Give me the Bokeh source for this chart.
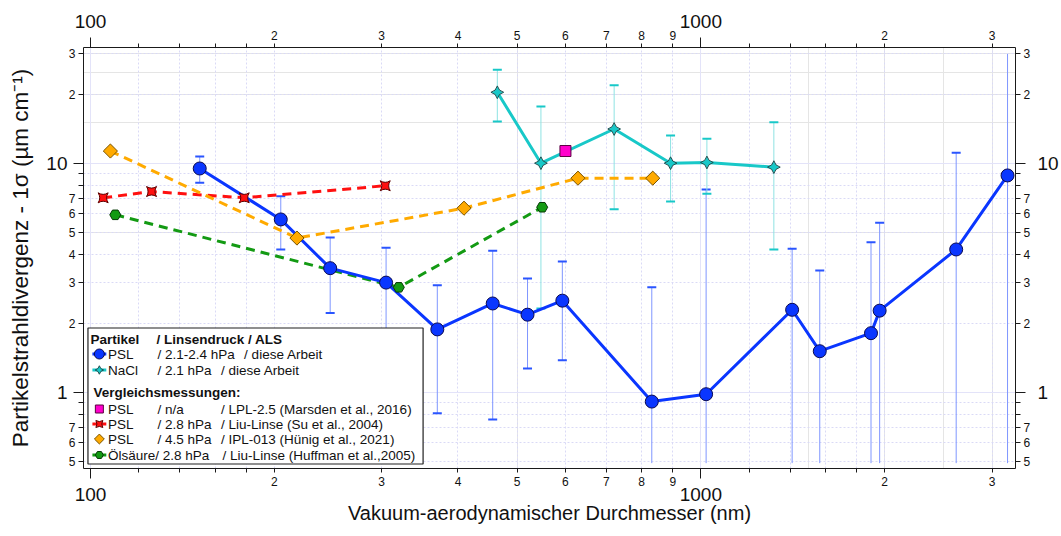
import numpy as np
from bokeh.plotting import figure
from bokeh.models import (Range1d, LinearScale, LogAxis, FixedTicker,
                          CustomJSTickFormatter, Grid, AllLabels)
from bokeh.embed import file_html
from bokeh.resources import INLINE
from bokeh.core.properties import value

# ---------------------------------------------------------------------------
# Data: vacuum aerodynamic diameter (nm) vs. particle beam divergence (1 sigma)
# ---------------------------------------------------------------------------
# PSL, this work (2.1-2.4 hPa); None = error bar leaves the axis range
psl_d = [151, 205, 247, 305, 370, 456, 520, 593, 831, 1020, 1411, 1566, 1900, 1963, 2620, 3180]
psl_div = [9.48, 5.68, 3.48, 3.01, 1.88, 2.44, 2.18, 2.51, 0.91, 0.98, 2.29, 1.51, 1.81, 2.27, 4.20, 8.84]
psl_hi = [10.7, 7.18, 4.74, 4.27, 2.93, 4.15, 3.14, 3.72, 2.87, 7.68, 4.23, 3.40, 4.52, 5.49, 11.1, None]
psl_lo = [8.21, 4.20, 2.22, 1.85, 0.81, 0.76, 1.27, 1.38, None, None, None, None, None, None, None, None]

# NaCl, this work (2.1 hPa)
nacl_d = [464, 547, 721, 892, 1023, 1317]
nacl_div = [20.4, 10.0, 14.1, 10.0, 10.07, 9.61]
nacl_hi = [25.6, 17.7, 21.9, 13.2, 12.8, 15.1]
nacl_lo = [15.2, 2.32, 6.30, 6.81, 7.35, 4.20]

# Comparison measurements
lpl_d = [600]                                   # LPL-2.5 (Marsden et al., 2016)
lpl_div = [11.3]
su_d = [104.9, 125.9, 178.6, 304]               # Liu lens (Su et al., 2004)
su_div = [7.06, 7.52, 7.06, 7.97]
hunig_d = [107.8, 217.9, 409.2, 629, 834]       # IPL-013 (Hünig et al., 2021)
hunig_div = [11.3, 4.71, 6.36, 8.60, 8.60]
huff_d = [109.8, 320, 549.6]                    # Liu lens, oleic acid (Huffman et al., 2005)
huff_div = [5.95, 2.87, 6.42]

# Axis ticks
x_decades = [100, 1000]
x_digits = [200, 300, 400, 500, 600, 700, 800, 900, 2000, 3000]
x_minor = [120, 140, 160, 180, 1200, 1400, 1600, 1800]
y_decades = [1, 10]
y_digits = [0.5, 0.6, 0.7, 2, 3, 4, 5, 6, 7, 20, 30]
y_minor = [0.8, 0.9, 8, 9]

X_MIN, X_MAX = 97.4, 3277.0
Y_MIN, Y_MAX = 0.4643, 32.0
ERR_FLOOR, ERR_CEIL = 0.49, 30.0

FONT = "Liberation Sans"
BLUE, BLUE_BAR = "#0a36ff", "#7f96ff"
CYAN, CYAN_BAR = "#18c8c8", "#8ee3e3"
RED, ORANGE, GREEN, MAGENTA = "#ff1010", "#ffaa00", "#139a13", "#ff00cc"

# Frame placement on the 1061 x 536 canvas
FL, FR, FT, FB = 83, 1023, 47, 468

p = figure(width=1061, height=536, x_axis_type="log", y_axis_type="log",
           x_range=Range1d(X_MIN, X_MAX), y_range=Range1d(Y_MIN, Y_MAX),
           x_axis_location=None, y_axis_location=None,
           toolbar_location=None, output_backend="svg",
           min_border_left=FL, min_border_right=1061 - FR,
           min_border_top=FT, min_border_bottom=536 - FB)
p.outline_line_color = None
p.background_fill_color = "white"
p.border_fill_color = "white"

# pixel space for the legend block
p.extra_x_ranges = {"px": Range1d(FL, FR)}
p.extra_y_ranges = {"px": Range1d(FB, FT)}
p.extra_x_scales = {"px": LinearScale()}
p.extra_y_scales = {"px": LinearScale()}

# ---------------------------------------------------------------- grid
def add_grid(dim, ticks, dash, color):
    g = Grid(dimension=dim, ticker=FixedTicker(ticks=ticks))
    g.grid_line_color = color
    g.grid_line_dash = dash
    g.grid_line_width = 1
    p.add_layout(g)

add_grid(0, x_digits + x_minor, "2 2", "#dadaf6")
add_grid(1, y_digits + y_minor, "2 2", "#dadaf6")
add_grid(0, x_decades, "solid", "#e3e3f9")
add_grid(1, y_decades, "solid", "#e3e3f9")

# ---------------------------------------------------------------- axes
digit_fmt = CustomJSTickFormatter(code="""
    const e = Math.floor(Math.log10(tick) + 1e-6);
    return String(Math.round(tick / Math.pow(10, e)));
""")
plain_fmt = CustomJSTickFormatter(code="return String(tick);")
blank_fmt = CustomJSTickFormatter(code="return '';")


def tick_axis(side, majors, minors, major_len, minor_len):
    ax = LogAxis(ticker=FixedTicker(ticks=majors, minor_ticks=minors), formatter=blank_fmt)
    ax.major_label_text_font_size = "0px"
    ax.major_label_standoff = 0
    ax.major_tick_out, ax.major_tick_in = major_len, 0
    ax.minor_tick_out, ax.minor_tick_in = minor_len, 0
    ax.axis_line_color = "#1a1a1a"
    ax.major_tick_line_color = "#1a1a1a"
    ax.minor_tick_line_color = "#1a1a1a"
    p.add_layout(ax, side)


def label_axis(side, ticks, fmt, size, standoff, title=None, title_size="20px", title_standoff=0):
    ax = LogAxis(ticker=FixedTicker(ticks=ticks), formatter=fmt)
    ax.major_label_policy = AllLabels()
    ax.axis_line_color = None
    ax.major_tick_line_color = None
    ax.minor_tick_line_color = None
    ax.major_tick_out = ax.major_tick_in = 0
    ax.minor_tick_out = ax.minor_tick_in = 0
    ax.major_label_text_font = FONT
    ax.major_label_text_font_size = size
    ax.major_label_text_color = "#111111"
    ax.major_label_standoff = standoff
    if title:
        ax.axis_label = title
        ax.axis_label_text_font = FONT
        ax.axis_label_text_font_size = title_size
        ax.axis_label_text_font_style = "normal"
        ax.axis_label_text_color = "#111111"
        ax.axis_label_standoff = title_standoff
    p.add_layout(ax, side)


for side in ("below", "above"):
    tick_axis(side, x_decades, x_digits + x_minor, 10, 4)
    label_axis(side, x_digits, digit_fmt, "12px", -2)
for side in ("left", "right"):
    tick_axis(side, y_decades, y_digits + y_minor, 10, 5)
    label_axis(side, y_digits, digit_fmt, "12px", -2)

label_axis("below", x_decades, plain_fmt, "19px", -1,
           "Vakuum-aerodynamischer Durchmesser (nm)", "20px", -2)
label_axis("above", x_decades, plain_fmt, "19px", 0)
label_axis("left", y_decades, plain_fmt, "19px", -2,
           "Partikelstrahldivergenz - 1σ (µm cm⁻¹)", "22.5px", 10)
label_axis("right", y_decades, plain_fmt, "19px", 4)

# ---------------------------------------------------------------- error bars
def error_bars(xs, lo, hi, bar_color, cap_color):
    lo_d = [v if v is not None else ERR_FLOOR for v in lo]
    hi_d = [v if v is not None else ERR_CEIL for v in hi]
    p.segment(x0=xs, y0=lo_d, x1=xs, y1=hi_d, line_color=bar_color, line_width=1)
    cx = [x for x, v in zip(xs, hi) if v is not None] + [x for x, v in zip(xs, lo) if v is not None]
    cy = [v for v in hi if v is not None] + [v for v in lo if v is not None]
    p.scatter(cx, cy, marker="dash", size=9, line_color=cap_color, line_width=2)

error_bars(psl_d, psl_lo, psl_hi, BLUE_BAR, "#2a55ff")
error_bars(nacl_d, nacl_lo, nacl_hi, CYAN_BAR, CYAN)

# ---------------------------------------------------------------- series
DASH = "9 6"
p.line(su_d, su_div, line_color=RED, line_width=3, line_dash=DASH)
p.line(hunig_d, hunig_div, line_color=ORANGE, line_width=3, line_dash=DASH)
p.line(huff_d, huff_div, line_color=GREEN, line_width=3, line_dash=DASH)
p.line(nacl_d, nacl_div, line_color=CYAN, line_width=3)
p.line(psl_d, psl_div, line_color=BLUE, line_width=3)

MARKERS = {
    "su": dict(marker="square_pin", size=10, fill_color=RED, line_color="#5a0000", angle=0.0),
    "hunig": dict(marker="square", size=10, fill_color=ORANGE, line_color="#7a5400", angle=np.pi / 4),
    "huff": dict(marker="hex", size=11, fill_color=GREEN, line_color="#063806", angle=0.0),
    "nacl": dict(marker="square_pin", size=9, fill_color=CYAN, line_color="#1d4f4f", angle=np.pi / 4),
    "psl": dict(marker="circle", size=13, fill_color=BLUE, line_color="#0a0a50", angle=0.0),
    "lpl": dict(marker="square", size=11, fill_color=MAGENTA, line_color="#5a0040", angle=0.0),
}
p.scatter(su_d, su_div, line_width=1, **MARKERS["su"])
p.scatter(hunig_d, hunig_div, line_width=1, **MARKERS["hunig"])
p.scatter(huff_d, huff_div, line_width=1, **MARKERS["huff"])
p.scatter(nacl_d, nacl_div, line_width=1, **MARKERS["nacl"])
p.scatter(psl_d, psl_div, line_width=1, **MARKERS["psl"])
p.scatter(lpl_d, lpl_div, line_width=1, **MARKERS["lpl"])

# ---------------------------------------------------------------- legend block
PX = dict(x_range_name="px", y_range_name="px")
p.quad(left=[87.5], right=[425.5], top=[327.5], bottom=[463.5],
       fill_color="white", line_color="#202020", line_width=1.2, **PX)

rows = [  # key, row y, swatch line colour, name, column 2, column 3, x of column 3
    ("psl", 353.5, BLUE, "PSL", "/ 2.1-2.4 hPa", "/ diese Arbeit", 245),
    ("nacl", 369.5, CYAN, "NaCl", "/ 2.1 hPa", "/ diese Arbeit", 221.7),
    ("lpl", 408.5, None, "PSL", "/ n/a", "/ LPL-2.5 (Marsden et al., 2016)", 221.7),
    ("su", 423.5, RED, "PSL", "/ 2.8 hPa", "/ Liu-Linse (Su et al., 2004)", 221.7),
    ("hunig", 438.5, None, "PSL", "/ 4.5 hPa", "/ IPL-013 (Hünig et al., 2021)", 221.7),
    ("huff", 454.5, GREEN, "Ölsäure/ 2.8 hPa", "", "/ Liu-Linse (Huffman et al.,2005)", 223.3),
]
LEG_FONT = "13.5px"
for key, ry, lc, name, c2, c3, x3 in rows:
    if lc:
        p.segment(x0=[92], y0=[ry], x1=[106], y1=[ry], line_color=lc, line_width=3, **PX)
    st = dict(MARKERS[key])
    st["size"] = max(6, st["size"] - 3)
    p.scatter([99], [ry], line_width=1, **st, **PX)
    tx = [107.7] + ([157.7] if c2 else []) + [x3]
    tt = [name] + ([c2] if c2 else []) + [c3]
    p.text(tx, [ry] * len(tx), text=tt, text_font=value(FONT), text_font_size=LEG_FONT,
           text_baseline="middle", text_align="left", text_color="#111111", **PX)

p.text([90, 156.7, 93], [338.5, 338.5, 392], text=["Partikel", "/ Linsendruck / ALS", "Vergleichsmessungen:"],
       text_font=value(FONT), text_font_size=LEG_FONT, text_font_style="bold",
       text_baseline="middle", text_align="left", text_color="#111111", **PX)

open("out.html", "w").write(file_html(p, INLINE))
